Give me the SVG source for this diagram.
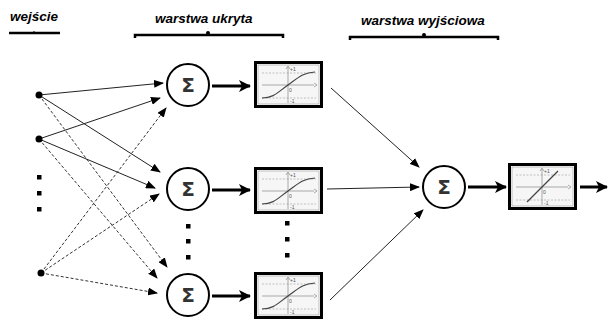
<svg xmlns="http://www.w3.org/2000/svg" xmlns:xlink="http://www.w3.org/1999/xlink" width="608" height="320" viewBox="0 0 608 320">
<style>
.hdr{font-family:"Liberation Sans",Arial,sans-serif;font-weight:bold;font-style:italic;font-size:13.5px;fill:#000}
.brace{fill:none;stroke:#000;stroke-width:2.5}
.sum{fill:#fff;stroke:#000;stroke-width:2}
.sig{font-family:"DejaVu Sans",sans-serif;font-size:20px;font-weight:bold;fill:#333;text-anchor:middle}
.in{stroke:#222;stroke-width:1;fill:none;marker-end:url(#ah)}
.ind{stroke:#333;stroke-width:1;fill:none;stroke-dasharray:3,2;marker-end:url(#ah)}
.thick{stroke:#000;stroke-width:3;fill:none;marker-end:url(#big)}
.out{stroke:#222;stroke-width:1;fill:none;marker-end:url(#ah)}
.tiny{font-family:"Liberation Sans",Arial,sans-serif;font-size:5px;fill:#555}
</style>
<defs>
<marker id="ah" markerWidth="10" markerHeight="8" refX="9" refY="4" orient="auto" markerUnits="userSpaceOnUse">
<path d="M0,0 L10,4 L0,8 Z" fill="#000"/>
</marker>
<marker id="big" markerWidth="12" markerHeight="12" refX="11" refY="6" orient="auto" markerUnits="userSpaceOnUse">
<path d="M0,0 L12,6 L0,12 L3,6 Z" fill="#000"/>
</marker>
<g id="frame">
<rect x="1.5" y="1.5" width="66" height="44" fill="#fff" stroke="#000" stroke-width="3"/>
<rect x="4" y="4" width="61" height="39" fill="#f6f6f6" stroke="#999" stroke-width="0.6"/>
<line x1="8" y1="12" x2="62" y2="12" stroke="#aaa" stroke-width="0.7" stroke-dasharray="2,1.5"/>
<line x1="8" y1="37" x2="62" y2="37" stroke="#aaa" stroke-width="0.7" stroke-dasharray="2,1.5"/>
<line x1="8" y1="24" x2="60" y2="24" stroke="#888" stroke-width="0.7"/>
<path d="M60,22 L63,24 L60,26" fill="none" stroke="#888" stroke-width="0.7"/>
<line x1="34" y1="42" x2="34" y2="6" stroke="#888" stroke-width="0.7"/>
<path d="M32,8 L34,5 L36,8" fill="none" stroke="#888" stroke-width="0.7"/>
<text class="tiny" x="36" y="10">+1</text>
<text class="tiny" x="35" y="31">0</text>
<text class="tiny" x="36" y="42">-1</text>
</g>
<g id="sigbox">
<use xlink:href="#frame"/>
<path d="M8,37 C20,37 24,31 34,24 S 48,12 61,11" fill="none" stroke="#444" stroke-width="1.2"/>
</g>
<g id="linbox">
<use xlink:href="#frame"/>
<line x1="19" y1="39" x2="50" y2="8" stroke="#444" stroke-width="1.2"/>
</g>
</defs>
<rect width="608" height="320" fill="#fff"/>

<g id="headers">
<text class="hdr" x="10" y="21">wejście</text>
<path class="brace" d="M9,33 L60,33"/>
<line x1="34" y1="31" x2="34" y2="33" stroke="#000" stroke-width="1"/>
<text class="hdr" x="155" y="23">warstwa ukryta</text>
<path class="brace" d="M135,38 L135,35 L283,35 L283,38"/>
<circle cx="208" cy="33" r="2" fill="#000"/>
<text class="hdr" x="361" y="25">warstwa wyjściowa</text>
<path class="brace" d="M350,40 L350,37 L498,37 L498,40"/>
<circle cx="424" cy="35" r="2" fill="#000"/>
</g>

<g id="connectors">
<line class="in" x1="39" y1="95" x2="163" y2="83"/>
<line class="in" x1="39" y1="95" x2="160" y2="172"/>
<line class="ind" x1="39" y1="95" x2="167" y2="267"/>
<line class="in" x1="39" y1="139" x2="160" y2="98"/>
<line class="in" x1="39" y1="139" x2="155" y2="188"/>
<line class="ind" x1="39" y1="139" x2="157" y2="278"/>
<line class="ind" x1="41" y1="273" x2="166" y2="108"/>
<line class="ind" x1="41" y1="273" x2="159" y2="194"/>
<line class="ind" x1="41" y1="273" x2="157" y2="293"/>
<line class="thick" x1="212" y1="86" x2="250" y2="86"/>
<line class="thick" x1="212" y1="190" x2="250" y2="190"/>
<line class="thick" x1="212" y1="296" x2="250" y2="296"/>
<line class="out" x1="331" y1="88" x2="419" y2="167"/>
<line class="out" x1="327" y1="189" x2="419" y2="187"/>
<line class="out" x1="330" y1="300" x2="423" y2="210"/>
<line class="thick" x1="468" y1="187" x2="506" y2="187"/>
<line class="thick" x1="580" y1="187" x2="607" y2="187"/>
</g>

<g id="inputs">
<circle cx="39" cy="95" r="3.5" fill="#000"/>
<circle cx="39" cy="139" r="3.5" fill="#000"/>
<circle cx="41" cy="273" r="3.5" fill="#000"/>
<rect x="37" y="175" width="4.5" height="4.5" fill="#000"/>
<rect x="37" y="191" width="4.5" height="4.5" fill="#000"/>
<rect x="37" y="207" width="4.5" height="4.5" fill="#000"/>
</g>

<g id="hidden1"><circle class="sum" cx="188" cy="85" r="21"/><text class="sig" x="188" y="92">Σ</text></g>
<g id="hidden2"><circle class="sum" cx="188" cy="189" r="21"/><text class="sig" x="188" y="196">Σ</text></g>
<g id="hidden3"><circle class="sum" cx="188" cy="295" r="21"/><text class="sig" x="188" y="302">Σ</text></g>
<g id="hdots">
<rect x="186" y="224" width="4.5" height="4.5" fill="#000"/>
<rect x="186" y="239" width="4.5" height="4.5" fill="#000"/>
<rect x="186" y="255" width="4.5" height="4.5" fill="#000"/>
<rect x="285" y="221" width="4.5" height="4.5" fill="#000"/>
<rect x="285" y="237" width="4.5" height="4.5" fill="#000"/>
<rect x="285" y="253" width="4.5" height="4.5" fill="#000"/>
</g>
<g id="act1"><use xlink:href="#sigbox" x="254" y="61"/></g>
<g id="act2"><use xlink:href="#sigbox" x="254" y="167"/></g>
<g id="act3"><use xlink:href="#sigbox" x="254" y="272"/></g>
<g id="outsum"><circle class="sum" cx="444" cy="187" r="21"/><text class="sig" x="444" y="194">Σ</text></g>
<g id="outact"><use xlink:href="#linbox" x="508" y="163"/></g>
</svg>
